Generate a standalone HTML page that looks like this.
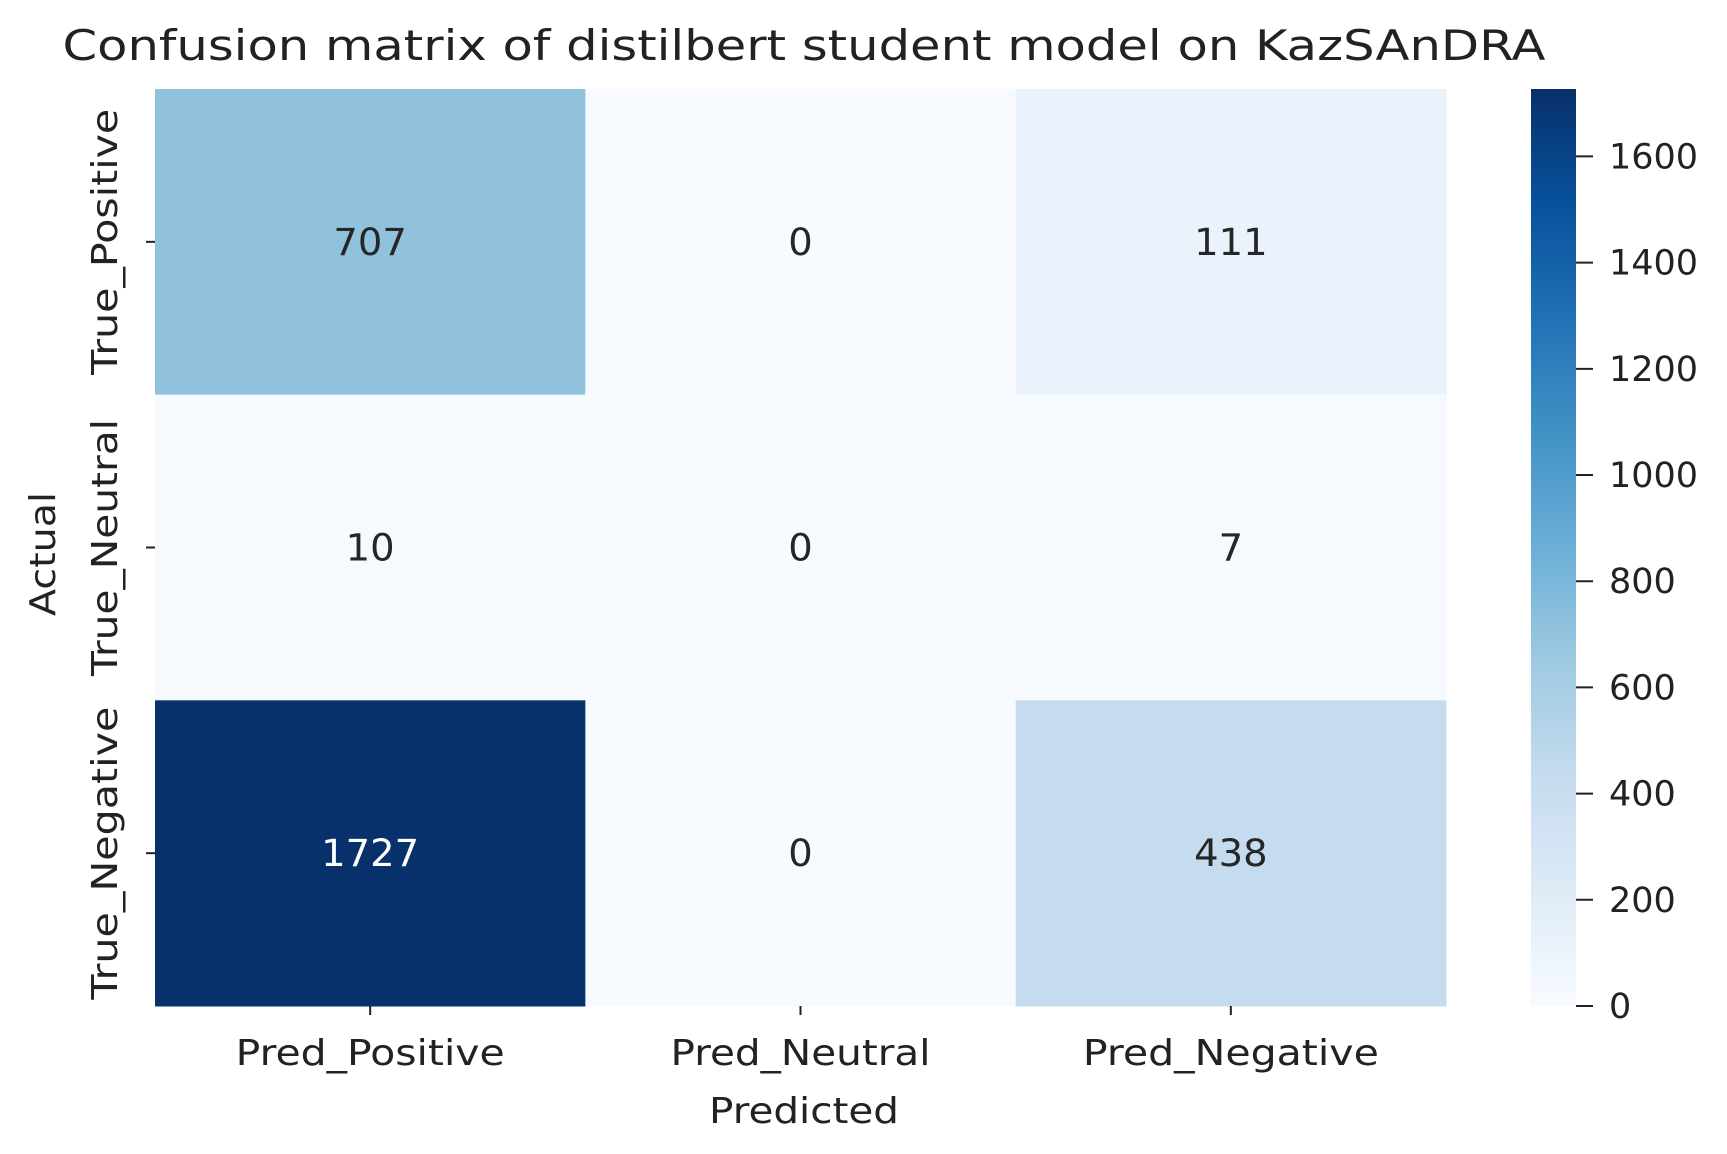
<!DOCTYPE html>
<html><head><meta charset="utf-8"><style>
html,body{margin:0;padding:0;background:#fff}
svg{display:block}
text{font-family:"DejaVu Sans","Liberation Sans",sans-serif}
</style></head><body>
<svg id="chart" width="1727" height="1154" viewBox="0 0 1727 1154" xmlns="http://www.w3.org/2000/svg">
<text x="804" y="60" font-size="42" text-anchor="middle" fill="#222" textLength="1483" lengthAdjust="spacingAndGlyphs">Confusion matrix of distilbert student model on KazSAnDRA</text>
<g id="cells"></g>
<g id="xaxis"></g>
<g id="yaxis"></g>
<g id="cbar"></g>
<text x="804" y="1123" font-size="36" text-anchor="middle" fill="#222" textLength="190" lengthAdjust="spacingAndGlyphs">Predicted</text>
<text transform="translate(55,554) rotate(-90)" font-size="36" text-anchor="middle" fill="#222" textLength="124" lengthAdjust="spacingAndGlyphs">Actual</text>
</svg>
<script>
const xLabels = ["Pred_Positive","Pred_Neutral","Pred_Negative"];
const yLabels = ["True_Positive","True_Neutral","True_Negative"];
const rowPositive = [707,0,111];
const rowNeutral = [10,0,7];
const rowNegative = [1727,0,438];
const cbarTicks = [0,200,400,600,800,1000,1200,1400,1600];

const xLens=[269,260,296], yLens=[266,257,293];
const matrix=[rowPositive,rowNeutral,rowNegative];
const NS="http://www.w3.org/2000/svg";
const L=155,R=1454-8,T=89,B=1006;
const vmin=0, vmax=Math.max(...matrix.flat());
const cw=(R-L)/xLabels.length, ch=(B-T)/yLabels.length;
const xPos=i=>L+cw*i, yPos=j=>T+ch*j;
const stops=["#f7fbff","#deebf7","#c6dbef","#9ecae1","#6baed6","#4292c6","#2171b5","#08519c","#08306b"];
function hex(h){return [1,3,5].map(i=>parseInt(h.substr(i,2),16));}
function blues(t){t=Math.max(0,Math.min(1,t));const p=t*8,i=Math.min(7,Math.floor(p)),f=p-i;const a=hex(stops[i]),b=hex(stops[i+1]);return "rgb("+a.map((v,k)=>Math.round(v+(b[k]-v)*f)).join(",")+")";}
function mk(tag,attrs,parent){const e=document.createElementNS(NS,tag);for(const k in attrs)e.setAttribute(k,attrs[k]);parent.appendChild(e);return e;}
const cells=document.getElementById('cells');
matrix.forEach((row,j)=>row.forEach((v,i)=>{
  const t=(v-vmin)/(vmax-vmin);
  const r=mk('rect',{x:xPos(i),y:yPos(j),width:cw+0.5,height:ch+0.5,fill:blues(t)},cells);
  
  
  const s=String(v);
  const tx=mk('text',{x:xPos(i)+cw/2,y:yPos(j)+ch/2+13,'font-size':37,'text-anchor':'middle',textLength:s.length*24.5,lengthAdjust:'spacingAndGlyphs',fill:t>0.5?'#fff':'#262626'},cells);
  tx.textContent=s;
  
  
}));
const xa=document.getElementById('xaxis');
xLabels.forEach((s,i)=>{
  const cx=xPos(i)+cw/2;
  const tk=mk('line',{x1:cx,x2:cx,y1:B,y2:B+9,stroke:'#222','stroke-width':2},xa);
  
  
  const t=mk('text',{x:cx,y:1065,'font-size':36,'text-anchor':'middle',textLength:xLens[i],lengthAdjust:'spacingAndGlyphs',fill:'#222'},xa);
  t.textContent=s;
  
  
});
const ya=document.getElementById('yaxis');
yLabels.forEach((s,j)=>{
  const cy=yPos(j)+ch/2;
  const tk=mk('line',{x1:L-9,x2:L,y1:cy,y2:cy,stroke:'#222','stroke-width':2},ya);
  
  
  const t=mk('text',{transform:'translate(117,'+cy+') rotate(-90)','font-size':36,'text-anchor':'middle',textLength:yLens[j],lengthAdjust:'spacingAndGlyphs',fill:'#222'},ya);
  t.textContent=s;
  
  
});
const cb=document.getElementById('cbar');
const CL=1531,CR=1576;
const cy=v=>B-(v-vmin)/(vmax-vmin)*(B-T);
const defs=mk('defs',{},cb);
const g=mk('linearGradient',{id:'bg',x1:0,y1:1,x2:0,y2:0},defs);
for(let k=0;k<=8;k++)mk('stop',{offset:k/8,'stop-color':stops[k]},g);
const bar=mk('rect',{x:CL,y:T,width:CR-CL,height:B-T,fill:'url(#bg)'},cb);


cbarTicks.forEach(v=>{
  const y=cy(v);
  const tk=mk('line',{x1:CR,x2:CR+17,y1:y,y2:y,stroke:'#222','stroke-width':2},cb);
  
  
  const t=mk('text',{x:1609,y:y+12,'font-size':35,fill:'#222'},cb);
  t.textContent=v;
  
  
});
</script>
</body></html>
